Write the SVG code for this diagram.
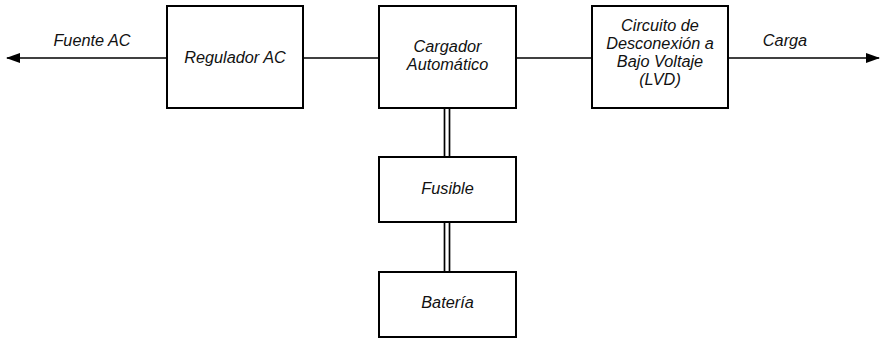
<svg xmlns="http://www.w3.org/2000/svg" width="885" height="339" viewBox="0 0 885 339">
<style>
.box{fill:#fff;stroke:#000;stroke-width:2}
.ln{stroke:#000;stroke-width:1.7;fill:none}
text{font-family:"Liberation Sans",Arial,sans-serif;font-style:italic;font-size:16.3px;fill:#111;text-anchor:middle}
</style>
<defs>
<marker id="ah" viewBox="0 0 14 10" refX="13" refY="5" markerWidth="14" markerHeight="10" markerUnits="userSpaceOnUse" orient="auto">
<path d="M0,0 L14,5 L0,10 Z" fill="#000"/>
</marker>
</defs>
<g id="connectors">
<line class="ln" x1="167" y1="58" x2="7" y2="58" marker-end="url(#ah)"/>
<line class="ln" x1="303" y1="58" x2="379" y2="58"/>
<line class="ln" x1="516" y1="58" x2="592" y2="58"/>
<line class="ln" x1="728" y1="58" x2="879" y2="58" marker-end="url(#ah)"/>
<line class="ln" x1="444.5" y1="108" x2="444.5" y2="157"/>
<line class="ln" x1="449.5" y1="108" x2="449.5" y2="157"/>
<line class="ln" x1="444.5" y1="222" x2="444.5" y2="272"/>
<line class="ln" x1="449.5" y1="222" x2="449.5" y2="272"/>
<text x="92" y="46">Fuente AC</text>
<text x="785" y="46">Carga</text>
</g>
<g id="regulador">
<rect class="box" x="167" y="6" width="136" height="102"/>
<text x="235" y="63">Regulador AC</text>
</g>
<g id="cargador">
<rect class="box" x="379" y="6" width="137" height="102"/>
<text x="447.5" y="52">Cargador</text>
<text x="447.5" y="70">Automático</text>
</g>
<g id="lvd">
<rect class="box" x="592" y="6" width="136" height="102"/>
<text x="660" y="31">Circuito de</text>
<text x="660" y="49">Desconexión a</text>
<text x="660" y="67">Bajo Voltaje</text>
<text x="660" y="85">(LVD)</text>
</g>
<g id="fusible">
<rect class="box" x="379" y="157" width="137" height="65"/>
<text x="447.5" y="194">Fusible</text>
</g>
<g id="bateria">
<rect class="box" x="379" y="272" width="137" height="65"/>
<text x="447.5" y="308">Batería</text>
</g>
</svg>
